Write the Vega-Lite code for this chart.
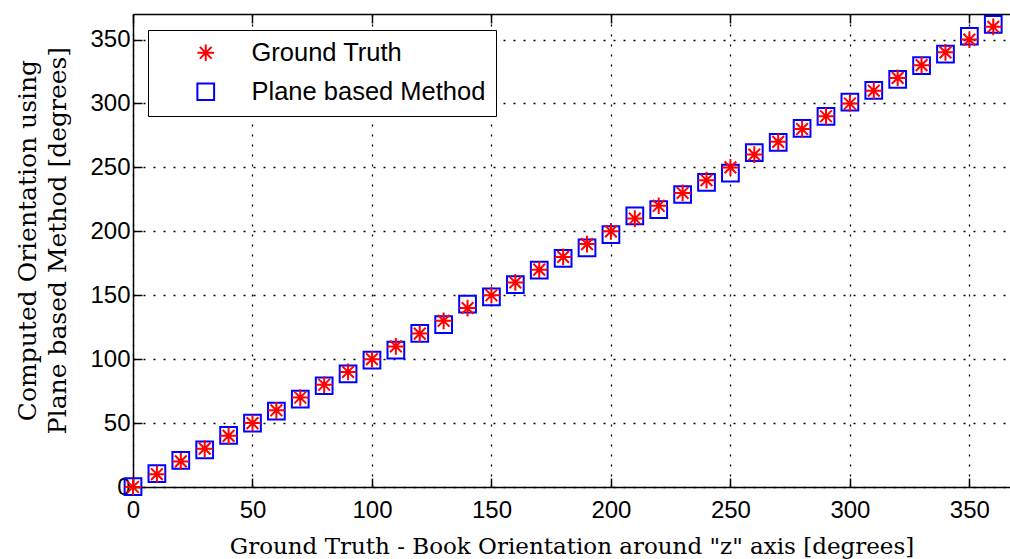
{
  "$schema": "https://vega.github.io/schema/vega-lite/v6.json",
  "width": 877,
  "height": 473,
  "autosize": {"type": "none"},
  "padding": {"left": 133, "top": 14, "right": 0, "bottom": 72},
  "background": "white",
  "config": {
    "view": {"stroke": null},
    "axis": {
      "domainColor": "#000000",
      "domainWidth": 1.5,
      "tickColor": "#000000",
      "tickWidth": 1.5,
      "tickSize": -9,
      "labelFont": "Liberation Sans Narrow, Liberation Sans",
      "labelFontSize": 24,
      "labelColor": "#000000",
      "labelFlush": false,
      "titleFont": "DejaVu Serif",
      "titleFontSize": 23,
      "titleFontWeight": "normal",
      "titleColor": "#000000",
      "gridColor": "#000000",
      "gridDash": [2, 8],
      "gridWidth": 1.3,
      "gridOpacity": 1
    }
  },
  "data": {
    "values": [
      {"x": 0, "y": 0.3, "series": "Plane based Method"},
      {"x": 10, "y": 10.5, "series": "Plane based Method"},
      {"x": 20, "y": 20.8, "series": "Plane based Method"},
      {"x": 30, "y": 29, "series": "Plane based Method"},
      {"x": 40, "y": 40.3, "series": "Plane based Method"},
      {"x": 50, "y": 50, "series": "Plane based Method"},
      {"x": 60, "y": 59.3, "series": "Plane based Method"},
      {"x": 70, "y": 68.8, "series": "Plane based Method"},
      {"x": 80, "y": 79.2, "series": "Plane based Method"},
      {"x": 90, "y": 88.5, "series": "Plane based Method"},
      {"x": 100, "y": 99.3, "series": "Plane based Method"},
      {"x": 110, "y": 107, "series": "Plane based Method"},
      {"x": 120, "y": 120.2, "series": "Plane based Method"},
      {"x": 130, "y": 127, "series": "Plane based Method"},
      {"x": 140, "y": 143, "series": "Plane based Method"},
      {"x": 150, "y": 148.8, "series": "Plane based Method"},
      {"x": 160, "y": 158.3, "series": "Plane based Method"},
      {"x": 170, "y": 169.6, "series": "Plane based Method"},
      {"x": 180, "y": 178.8, "series": "Plane based Method"},
      {"x": 190, "y": 187, "series": "Plane based Method"},
      {"x": 200, "y": 197.5, "series": "Plane based Method"},
      {"x": 210, "y": 212, "series": "Plane based Method"},
      {"x": 220, "y": 217, "series": "Plane based Method"},
      {"x": 230, "y": 228.8, "series": "Plane based Method"},
      {"x": 240, "y": 238.3, "series": "Plane based Method"},
      {"x": 250, "y": 245.5, "series": "Plane based Method"},
      {"x": 260, "y": 261.5, "series": "Plane based Method"},
      {"x": 270, "y": 269.5, "series": "Plane based Method"},
      {"x": 280, "y": 280.5, "series": "Plane based Method"},
      {"x": 290, "y": 290, "series": "Plane based Method"},
      {"x": 300, "y": 301, "series": "Plane based Method"},
      {"x": 310, "y": 310.3, "series": "Plane based Method"},
      {"x": 320, "y": 318.8, "series": "Plane based Method"},
      {"x": 330, "y": 329.7, "series": "Plane based Method"},
      {"x": 340, "y": 338.7, "series": "Plane based Method"},
      {"x": 350, "y": 352.6, "series": "Plane based Method"},
      {"x": 360, "y": 361.8, "series": "Plane based Method"},
      {"x": 0, "y": 0, "series": "Ground Truth"},
      {"x": 10, "y": 10, "series": "Ground Truth"},
      {"x": 20, "y": 20, "series": "Ground Truth"},
      {"x": 30, "y": 30, "series": "Ground Truth"},
      {"x": 40, "y": 40, "series": "Ground Truth"},
      {"x": 50, "y": 50, "series": "Ground Truth"},
      {"x": 60, "y": 60, "series": "Ground Truth"},
      {"x": 70, "y": 70, "series": "Ground Truth"},
      {"x": 80, "y": 80, "series": "Ground Truth"},
      {"x": 90, "y": 90, "series": "Ground Truth"},
      {"x": 100, "y": 100, "series": "Ground Truth"},
      {"x": 110, "y": 110, "series": "Ground Truth"},
      {"x": 120, "y": 120, "series": "Ground Truth"},
      {"x": 130, "y": 130, "series": "Ground Truth"},
      {"x": 140, "y": 140, "series": "Ground Truth"},
      {"x": 150, "y": 150, "series": "Ground Truth"},
      {"x": 160, "y": 160, "series": "Ground Truth"},
      {"x": 170, "y": 170, "series": "Ground Truth"},
      {"x": 180, "y": 180, "series": "Ground Truth"},
      {"x": 190, "y": 190, "series": "Ground Truth"},
      {"x": 200, "y": 200, "series": "Ground Truth"},
      {"x": 210, "y": 210, "series": "Ground Truth"},
      {"x": 220, "y": 220, "series": "Ground Truth"},
      {"x": 230, "y": 230, "series": "Ground Truth"},
      {"x": 240, "y": 240, "series": "Ground Truth"},
      {"x": 250, "y": 250, "series": "Ground Truth"},
      {"x": 260, "y": 260, "series": "Ground Truth"},
      {"x": 270, "y": 270, "series": "Ground Truth"},
      {"x": 280, "y": 280, "series": "Ground Truth"},
      {"x": 290, "y": 290, "series": "Ground Truth"},
      {"x": 300, "y": 300, "series": "Ground Truth"},
      {"x": 310, "y": 310, "series": "Ground Truth"},
      {"x": 320, "y": 320, "series": "Ground Truth"},
      {"x": 330, "y": 330, "series": "Ground Truth"},
      {"x": 340, "y": 340, "series": "Ground Truth"},
      {"x": 350, "y": 350, "series": "Ground Truth"},
      {"x": 360, "y": 360, "series": "Ground Truth"}
    ]
  },
  "layer": [
    {
      "mark": {"type": "point", "filled": false, "strokeWidth": 2, "size": 280, "opacity": 1},
      "encoding": {
        "x": {
          "field": "x", "type": "quantitative",
          "scale": {"domain": [0, 367], "nice": false, "zero": false},
          "axis": {
            "orient": "bottom",
            "values": [0, 50, 100, 150, 200, 250, 300, 350],
            "grid": true,
            "labelPadding": 20,
            "title": "Ground Truth - Book Orientation around \"z\" axis [degrees]",
            "titlePadding": 13
          }
        },
        "y": {
          "field": "y", "type": "quantitative",
          "scale": {"domain": [0, 370], "nice": false, "zero": false},
          "axis": {
            "orient": "left",
            "values": [0, 50, 100, 150, 200, 250, 300, 350],
            "grid": true,
            "labelPadding": 12,
            "title": ["Computed Orientation using", "Plane based Method [degrees]"],
            "titleFontSize": 25,
            "titleLineHeight": 30,
            "titlePadding": 19,
            "titleY": 226
          }
        },
        "color": {
          "field": "series", "type": "nominal",
          "scale": {"domain": ["Ground Truth", "Plane based Method"], "range": ["#ff0000", "#0000ff"]},
          "legend": {
            "orient": "none",
            "legendX": 15,
            "legendY": 16,
            "title": null,
            "strokeColor": "#000000",
            "fillColor": "#ffffff",
            "padding": 10,
            "labelFont": "Liberation Sans",
            "labelFontSize": 25.5,
            "labelColor": "#000000",
            "labelOffset": 33,
            "symbolOffset": 35,
            "symbolSize": 280,
            "symbolStrokeWidth": 2,
            "rowPadding": 12,
            "labelLimit": 400
          }
        },
        "shape": {
          "field": "series", "type": "nominal",
          "scale": {"domain": ["Ground Truth", "Plane based Method"], "range": ["M0,-1L0,1M-1,0L1,0M-0.7,-0.7L0.7,0.7M-0.7,0.7L0.7,-0.7", "square"]}
        }
      }
    },
    {
      "mark": {"type": "point", "opacity": 0},
      "encoding": {
        "x": {
          "field": "x", "type": "quantitative",
          "axis": {
            "orient": "top",
            "values": [0, 50, 100, 150, 200, 250, 300, 350],
            "labels": false,
            "grid": false,
            "title": null
          }
        }
      }
    }
  ],
  "resolve": {"axis": {"x": "independent"}}
}
